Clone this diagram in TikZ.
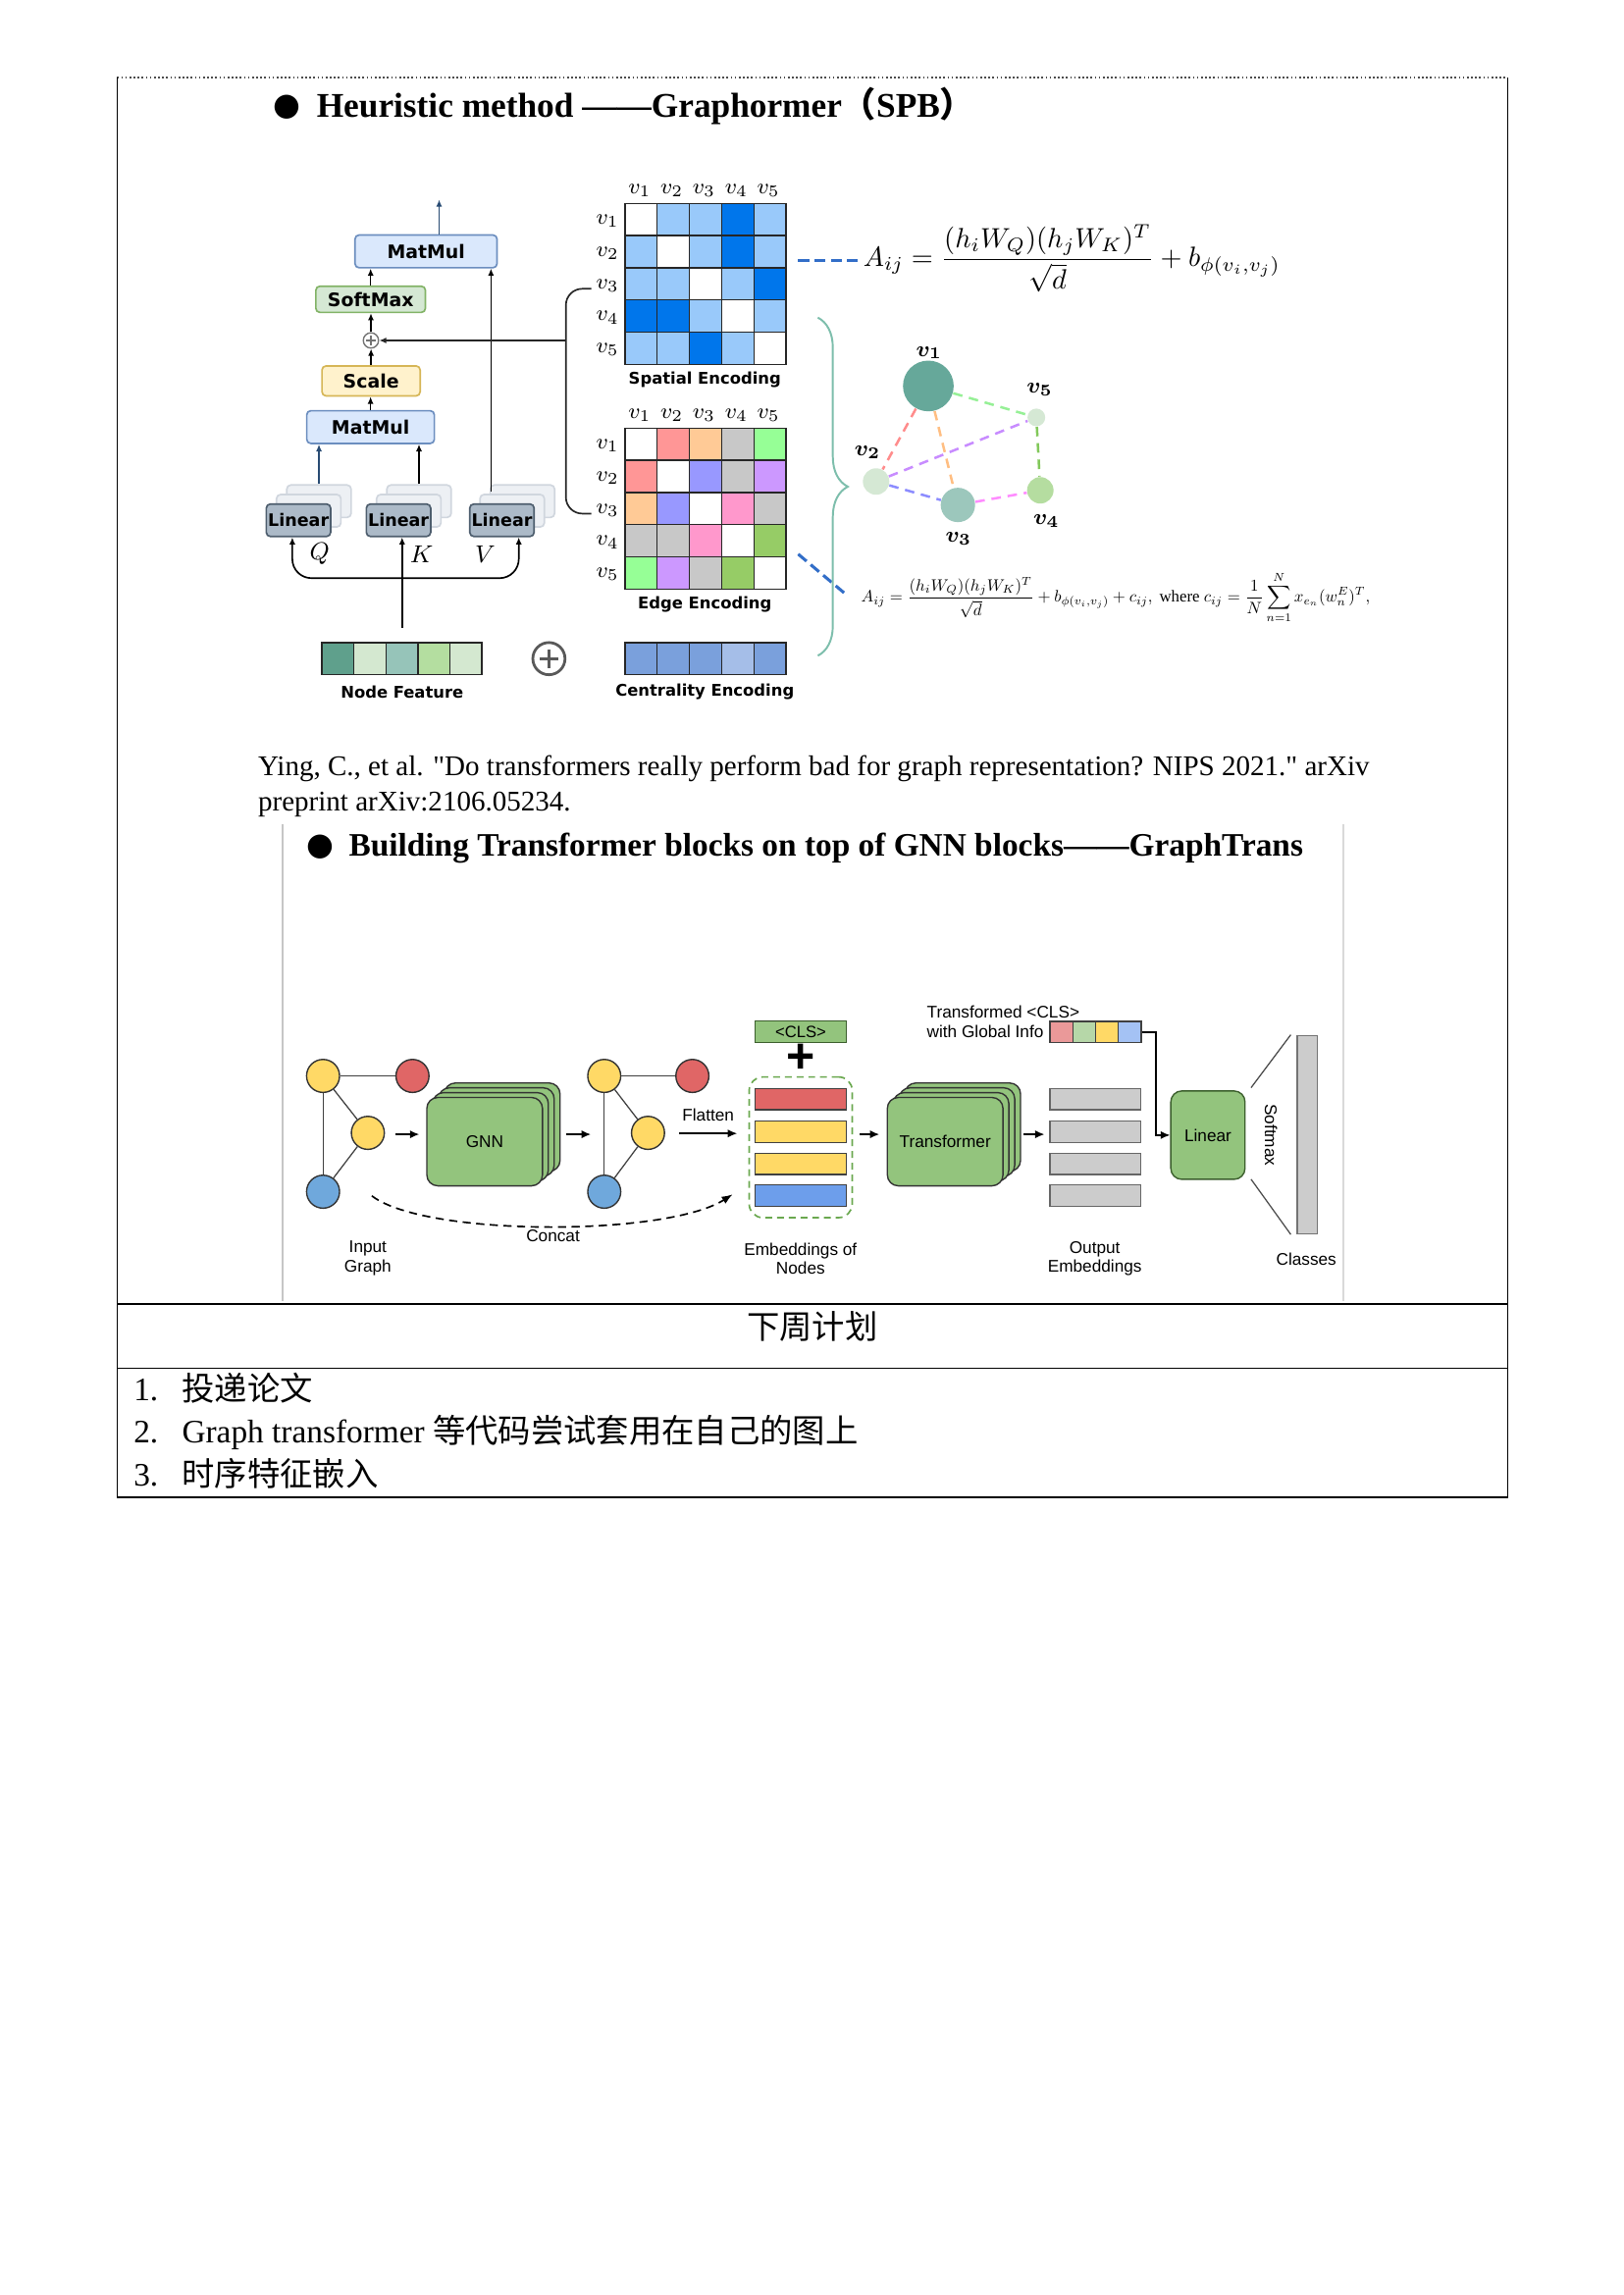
\documentclass[tikz,border=0pt]{standalone}
\usepackage{amsmath}
\usepackage{fontspec}
\setmainfont{Liberation Serif}
\newfontfamily\citefont{Liberation Serif}[Ligatures=TeXOff]
\newfontfamily\cjk{Noto Sans CJK SC}
\newfontfamily\lsans{Liberation Sans}
\newfontfamily\dvs{DejaVu Sans}
\usetikzlibrary{arrows.meta,decorations.pathreplacing,calc}

\definecolor{mmF}{RGB}{218,232,252}
\definecolor{mmD}{RGB}{108,142,191}
\definecolor{smF}{RGB}{213,232,212}
\definecolor{smD}{RGB}{130,179,102}
\definecolor{scF}{RGB}{255,242,204}
\definecolor{scD}{RGB}{214,182,86}
\definecolor{liF}{RGB}{172,186,200}
\definecolor{liD}{RGB}{78,94,110}
\definecolor{shF}{RGB}{237,240,244}
\definecolor{shD}{RGB}{208,214,222}
\definecolor{qblue}{RGB}{40,75,115}
\definecolor{spW}{RGB}{255,255,255}
\definecolor{spL}{RGB}{153,201,250}
\definecolor{spD}{RGB}{0,118,235}
\definecolor{egW}{RGB}{255,255,255}
\definecolor{egR}{RGB}{255,150,150}
\definecolor{egO}{RGB}{255,202,150}
\definecolor{egG}{RGB}{200,200,200}
\definecolor{egN}{RGB}{150,255,150}
\definecolor{egB}{RGB}{152,152,255}
\definecolor{egP}{RGB}{204,152,255}
\definecolor{egK}{RGB}{255,152,204}
\definecolor{egE}{RGB}{150,204,102}
\definecolor{nfA}{RGB}{95,160,140}
\definecolor{nfB}{RGB}{212,232,208}
\definecolor{nfC}{RGB}{150,196,185}
\definecolor{nfD}{RGB}{180,222,160}
\definecolor{ceA}{RGB}{122,160,220}
\definecolor{ceB}{RGB}{165,190,232}
\definecolor{gVa}{RGB}{102,168,154}
\definecolor{gVb}{RGB}{213,232,212}
\definecolor{gVc}{RGB}{156,199,188}
\definecolor{gVd}{RGB}{181,221,160}
\definecolor{ca}{RGB}{150,240,150}
\definecolor{cb}{RGB}{255,140,140}
\definecolor{cc}{RGB}{255,190,130}
\definecolor{cd}{RGB}{200,140,255}
\definecolor{ce}{RGB}{140,140,255}
\definecolor{cf}{RGB}{255,140,255}
\definecolor{cg}{RGB}{130,200,90}
\definecolor{brc}{RGB}{125,190,172}
\definecolor{dsh}{RGB}{50,110,200}
\definecolor{gtY}{RGB}{255,217,102}
\definecolor{gtR}{RGB}{224,102,102}
\definecolor{gtB}{RGB}{111,168,220}
\definecolor{gtBar}{RGB}{109,158,235}
\definecolor{gtG}{RGB}{147,196,125}
\definecolor{gtGD}{RGB}{60,95,45}
\definecolor{gtGray}{RGB}{204,204,204}
\definecolor{gtDash}{RGB}{106,168,79}
\definecolor{tcA}{RGB}{234,153,153}
\definecolor{tcB}{RGB}{182,215,168}
\definecolor{tcC}{RGB}{255,217,102}
\definecolor{tcD}{RGB}{164,194,244}

\tikzset{
  opbox/.style={draw, rounded corners=1.5pt, line width=0.6pt, inner sep=0pt,
    font=\dvs\bfseries\fontsize{6.8}{7}\selectfont},
  linbox/.style={draw=liD, fill=liF, rounded corners=1.5pt, line width=0.6pt, inner sep=0pt,
    minimum width=23.6pt, minimum height=11.9pt, font=\dvs\bfseries\fontsize{6.3}{7}\selectfont},
  linsh/.style={draw=shD, fill=shF, rounded corners=1.5pt, line width=0.6pt, inner sep=0pt,
    minimum width=23.6pt, minimum height=11.9pt},
  sarr/.style={line width=0.5pt, -{Latex[length=2.6pt,width=2.2pt]}},
  enclabel/.style={font=\dvs\bfseries\fontsize{5.9}{7}\selectfont, inner sep=0pt},
  vlab/.style={font=\fontsize{8}{8}\selectfont, inner sep=0pt},
  glab/.style={font=\fontsize{8.5}{8.5}\selectfont\boldmath, inner sep=0pt},
  gnode/.style={circle, inner sep=0pt, draw=none},
  gedge/.style={line width=0.9pt, dash pattern=on 3.5pt off 2.5pt},
  gtnode/.style={circle, draw=black!80, line width=0.5pt, minimum size=12.1pt, inner sep=0pt},
  gtedge/.style={line width=0.45pt, black!75},
  gtarr/.style={line width=0.85pt, -{Latex[length=3.5pt,width=3pt]}},
  gtstack/.style={draw=black!80, fill=gtG, rounded corners=4pt, line width=0.5pt,
    minimum width=42.4pt, minimum height=32.4pt, inner sep=0pt},
  gtbar/.style={draw=black!75, line width=0.45pt, minimum width=33.4pt, minimum height=7.8pt, inner sep=0pt},
  gtlab/.style={font=\lsans\fontsize{6.2}{7}\selectfont, align=center, inner sep=0pt},
  bodytxt/.style={font=\fontsize{12}{14}\selectfont, inner sep=0pt, anchor=base west},
  citetxt/.style={font=\citefont\fontsize{10.45}{12}\selectfont, inner sep=0pt, anchor=base west},
  ttl/.style={font=\bfseries\fontsize{12}{14}\selectfont, inner sep=0pt, anchor=base west},
  bul/.style={font=\dvs\fontsize{11.5}{12}\selectfont, inner sep=0pt},
  ruleline/.style={line width=0.5pt, black},
}

\begin{document}
\begin{tikzpicture}[x=0.5368pt,y=-0.5368pt]
\fill[white] (0,0) rectangle (1109,1568);
\useasboundingbox (0,0) rectangle (1109,1568);

% ---------------- page frame ----------------
\draw[black!70, line width=0.4pt, dash pattern=on 0.6pt off 0.9pt] (80,53) -- (1030,53);
\draw[ruleline] (80,53) -- (80,1023) -- (1030,1023) -- (1030,53);
\draw[ruleline] (80,891) -- (1030,891);
\draw[ruleline] (80,935) -- (1030,935);

% ---------------- titles and text ----------------
\node[bul] (b1) at (196,73) {●};
\node[ttl, font=\bfseries\fontsize{12.7}{14}\selectfont] (t1) at (216,80) {Heuristic method ——Graphormer{\cjk （}SPB{\cjk ）}};
\node[citetxt] (c1) at (176,530) {Ying, C., et al. "Do transformers really perform bad for graph representation? NIPS 2021." arXiv};
\node[citetxt] (c2) at (176,554) {preprint arXiv:2106.05234.};
\node[bul] (b2) at (219,579) {●};
\node[ttl] (t2) at (238,585) {Building Transformer blocks on top of GNN blocks——GraphTrans};
\draw[gray!45, line width=0.9pt] (193,563) -- (193,889);
\draw[gray!30, line width=0.6pt] (917.6,563) -- (917.6,889);

\node[font=\cjk\fontsize{12}{14}\selectfont, inner sep=0pt] (plan) at (555,906) {下周计划};
\node[bodytxt] (n1) at (91,957) {1.};
\node[bodytxt] (i1) at (124,957) {\cjk 投递论文};
\node[bodytxt] (n2) at (91,986) {2.};
\node[bodytxt] (i2) at (124,986) {Graph transformer {\cjk 等代码尝试套用在自己的图上}};
\node[bodytxt] (n3) at (91,1015) {3.};
\node[bodytxt] (i3) at (124,1015) {\cjk 时序特征嵌入};

% ---------------- Graphormer: encodings ----------------
\foreach \cl [count=\i from 0] in {W,L,L,D,L,L,W,L,D,L,L,L,W,L,D,D,D,L,W,L,L,L,D,L,W}{
  \pgfmathtruncatemacro\colk{mod(\i,5)}
  \pgfmathtruncatemacro\rowk{div(\i,5)}
  \filldraw[fill=sp\cl, draw=black!85, line width=0.5pt] ({427+22*\colk},{139+22*\rowk}) rectangle ++(22,22);
}
\foreach \cl [count=\i from 0] in {W,R,O,G,N,R,W,B,G,P,O,B,W,K,G,G,G,K,W,E,N,P,G,E,W}{
  \pgfmathtruncatemacro\colk{mod(\i,5)}
  \pgfmathtruncatemacro\rowk{div(\i,5)}
  \filldraw[fill=eg\cl, draw=black!85, line width=0.5pt] ({427+22*\colk},{292.5+22*\rowk}) rectangle ++(22,22);
}
\foreach \k in {1,...,5}{
  \node[vlab] (sc\k) at ({427+22*\k-12},130) {$v_{\k}$};
  \node[vlab] (sr\k) at (415,{139+22*\k-10}) {$v_{\k}$};
  \node[vlab] (ec\k) at ({427+22*\k-12},283.5) {$v_{\k}$};
  \node[vlab] (er\k) at (415,{292.5+22*\k-10}) {$v_{\k}$};
}
\foreach \cl [count=\i from 0] in {nfA,nfB,nfC,nfD,nfB}{
  \filldraw[fill=\cl, draw=black!85, line width=0.5pt] ({220+21.84*\i},439) rectangle ++(21.84,21.8);
}
\foreach \cl [count=\i from 0] in {ceA,ceA,ceA,ceB,ceA}{
  \filldraw[fill=\cl, draw=black!85, line width=0.5pt] ({427+22*\i},439) rectangle ++(22,21.8);
}
\node[enclabel] (spl) at (481.5,259.7) {Spatial Encoding};
\node[enclabel] (edl) at (481.5,413.3) {Edge Encoding};
\node[enclabel] (cel) at (481.5,472.6) {Centrality Encoding};
\node[enclabel] (nfl) at (274.7,472.6) {Node Feature};

\node[circle, draw=black!65, line width=1pt, minimum size=11.8pt, inner sep=0pt] (bigplus) at (375,450) {};
\draw[black!65, line width=1pt] ($(bigplus.center)+(-6.5,0)$) -- ($(bigplus.center)+(6.5,0)$);
\draw[black!65, line width=1pt] ($(bigplus.center)+(0,-6.5)$) -- ($(bigplus.center)+(0,6.5)$);

% ---------------- Graphormer: attention block ----------------
\node[opbox, fill=mmF, draw=mmD, minimum width=52.1pt, minimum height=12pt] (mmt) at (291.05,171.75) {MatMul};
\node[opbox, fill=smF, draw=smD, minimum width=40.2pt, minimum height=9.6pt] (sm) at (253.2,204.5) {SoftMax};
\node[circle, draw=black!55, fill=white, line width=0.5pt, minimum size=5.6pt, inner sep=0pt] (sp) at (253.4,232.6) {};
\draw[black!55, line width=0.4pt] ($(sp.center)+(-3.2,0)$) -- ($(sp.center)+(3.2,0)$);
\draw[black!55, line width=0.4pt] ($(sp.center)+(0,-3.2)$) -- ($(sp.center)+(0,3.2)$);
\node[opbox, fill=scF, draw=scD, minimum width=36pt, minimum height=11pt] (sc) at (253.5,260.25) {Scale};
\node[opbox, fill=mmF, draw=mmD, minimum width=46.8pt, minimum height=12pt] (mml) at (253.15,291.8) {MatMul};

\foreach \n/\x in {1/203.9,2/272.25,3/342.9}{
  \node[linsh] (Lc\n) at ({\x+14},342.45) {};
  \node[linsh] (Lb\n) at ({\x+7},348.95) {};
}
\coordinate (vtop) at (335.4,336);
\draw[sarr] (vtop) -- (vtop |- mmt.south);
\node[linbox] (L1) at (203.9,355.45) {Linear};
\node[linbox] (L2) at (272.25,355.45) {Linear};
\node[linbox] (L3) at (342.9,355.45) {Linear};

\draw[sarr, qblue] ([xshift=4.8pt]mmt.north) -- ++(0,-23.6);
\draw[sarr] (sm.north) -- (sm.north |- mmt.south);
\draw[sarr] (sp.north) -- (sp.north |- sm.south);
\draw[sarr] (sc.north) -- (sc.north |- sp.south);
\draw[sarr] (mml.north) -- (mml.north |- sc.south);
\draw[sarr, qblue] (Lc1.north) -- (Lc1.north |- mml.south);
\draw[sarr] (Lc2.north) -- (Lc2.north |- mml.south);

\coordinate (brL) at (199.7,395);
\coordinate (brR) at (354.4,395);
\draw[line width=0.6pt, {Latex[length=2.6pt,width=2.2pt]}-{Latex[length=2.6pt,width=2.2pt]}, rounded corners=7]
  (L1.south -| brL) -- (brL) -- (brR) -- (brR |- L3.south);
\coordinate (kfoot) at (274.7,429);
\draw[sarr, line width=0.6pt] (kfoot) -- (kfoot |- L2.south);
\node[font=\fontsize{9}{9}\selectfont, inner sep=0pt] (Q) at (218.3,378.5) {$Q$};
\node[font=\fontsize{9}{9}\selectfont, inner sep=0pt] (K) at (288,378.5) {$K$};
\node[font=\fontsize{9}{9}\selectfont, inner sep=0pt] (V) at (331.4,378.5) {$V$};

\coordinate (bk1) at (404,197.3);
\coordinate (bk2) at (404,350.9);
\coordinate (bkm) at (386.6,232.6);
\draw[line width=0.6pt, black!85, rounded corners=6] (bk1) -- (bk1 -| bkm) -- (bk2 -| bkm) -- (bk2);
\draw[sarr, black!85] (bkm) -- (sp.east);

% ---------------- formulas ----------------
\node[inner sep=0pt] (f1) at (732.3,176.5)
  {\resizebox{153pt}{!}{$\displaystyle A_{ij}=\frac{(h_iW_Q)(h_jW_K)^T}{\sqrt{d}}+b_{\phi(v_i,v_j)}$}};
\coordinate (dl1) at (545.3,178.2);
\coordinate (dl2) at (586,178.2);
\draw[dsh, line width=1.1pt, dash pattern=on 4pt off 2pt] (dl1) -- (dl2);

\node[inner sep=0pt] (f2) at (762.2,408.3)
  {\resizebox{186.6pt}{!}{$\displaystyle A_{ij}=\frac{(h_iW_Q)(h_jW_K)^T}{\sqrt{d}}+b_{\phi(v_i,v_j)}+c_{ij},\ \text{where}\ c_{ij}=\frac{1}{N}\sum_{n=1}^{N}x_{e_n}(w_n^E)^T,$}};
\coordinate (dl3) at (545.3,378.6);
\coordinate (dl4) at (576.6,405);
\draw[dsh, line width=1.1pt, dash pattern=on 4pt off 2pt] (dl3) -- (dl4);

\draw[brc, line width=0.7pt, decorate, decoration={brace, amplitude=11pt, aspect=0.5}] (558.7,217) -- (558.7,448);

% ---------------- graph ----------------
\node[gnode, fill=gVa, minimum size=18.6pt] (g1) at (634.2,263.7) {};
\node[gnode, fill=gVb, minimum size=6.5pt] (g5) at (708,285.2) {};
\node[gnode, fill=gVb, minimum size=9.7pt] (g2) at (598.5,329) {};
\node[gnode, fill=gVc, minimum size=12.6pt] (g3) at (654.4,345) {};
\node[gnode, fill=gVd, minimum size=9.7pt] (g4) at (710.7,335) {};
\draw[gedge, ca] (g1) -- (g5);
\draw[gedge, cb] (g1) -- (g2);
\draw[gedge, cc] (g1) -- (g3);
\draw[gedge, cd] (g2) -- (g5);
\draw[gedge, ce] (g2) -- (g3);
\draw[gedge, cf] (g3) -- (g4);
\draw[gedge, cg] (g5) -- (g4);
\node[glab] (lv1) at (634.7,241) {$v_1$};
\node[glab] (lv5) at (710.3,266) {$v_5$};
\node[glab] (lv2) at (592.7,309) {$v_2$};
\node[glab] (lv3) at (654.9,368) {$v_3$};
\node[glab] (lv4) at (714.8,356) {$v_4$};

% ---------------- GraphTrans ----------------
\node[gtnode, fill=gtY] (a1) at (220.7,735.1) {};
\node[gtnode, fill=gtR] (a2) at (281.8,735.1) {};
\node[gtnode, fill=gtY] (a3) at (251.3,774) {};
\node[gtnode, fill=gtB] (a4) at (220.7,814.2) {};
\draw[gtedge] (a1) -- (a2);
\draw[gtedge] (a1) -- (a4);
\draw[gtedge] (a1) -- (a3);
\draw[gtedge] (a3) -- (a4);

\node[gtnode, fill=gtY] (o1) at (412.8,735.1) {};
\node[gtnode, fill=gtR] (o2) at (473,735.1) {};
\node[gtnode, fill=gtY] (o3) at (442.7,774) {};
\node[gtnode, fill=gtB] (o4) at (412.8,814.2) {};
\draw[gtedge] (o1) -- (o2);
\draw[gtedge] (o1) -- (o4);
\draw[gtedge] (o1) -- (o3);
\draw[gtedge] (o3) -- (o4);

\foreach \k in {3,2,1}{
  \node[gtstack] (gnn\k) at ({331.1+4*\k},{780-3.3*\k}) {};
}
\node[gtstack, font=\lsans\fontsize{6.2}{7}\selectfont] (gnn) at (331.1,780) {GNN};
\foreach \k in {3,2,1}{
  \node[gtstack] (trf\k) at ({645.7+4*\k},{780-3.3*\k}) {};
}
\node[gtstack, font=\lsans\fontsize{6.2}{7}\selectfont] (trf) at (645.7,780) {Transformer};

\node[draw=gtDash, line width=0.6pt, dash pattern=on 2.5pt off 1.8pt, rounded corners=5pt,
  minimum width=37.8pt, minimum height=51.6pt, inner sep=0pt] (emb) at (547,783.85) {};
\node[gtbar, fill=gtR] (e1) at (547,750.85) {};
\node[gtbar, fill=gtY] (e2) at (547,773.25) {};
\node[gtbar, fill=gtY] (e3) at (547,795.1) {};
\node[gtbar, fill=gtBar] (e4) at (547,816.9) {};
\node[gtbar, fill=gtG, draw=gtGD, font=\lsans\fontsize{6}{7}\selectfont] (cls) at (547,705) {<CLS>};
\node[font=\lsans\bfseries\fontsize{18}{18}\selectfont, inner sep=0pt] (plus) at (547.4,723.5) {+};

\node[gtbar, fill=gtGray, draw=black!60] (u1) at (748.4,750.85) {};
\node[gtbar, fill=gtGray, draw=black!60] (u2) at (748.4,773.25) {};
\node[gtbar, fill=gtGray, draw=black!60] (u3) at (748.4,795.1) {};
\node[gtbar, fill=gtGray, draw=black!60] (u4) at (748.4,816.9) {};

\foreach \cl [count=\i from 0] in {tcA,tcB,tcC,tcD}{
  \node[draw=black!75, fill=\cl, line width=0.45pt, minimum width=8.37pt, minimum height=7.8pt, inner sep=0pt]
    (tc\i) at ({725+15.6*\i},705.05) {};
}
\node[gtlab, align=left, anchor=west] (ltc) at (632.9,698.1) {Transformed <CLS>\\with Global Info};

\node[draw=gtGD, fill=gtG, rounded corners=4pt, line width=0.5pt, minimum width=27.2pt, minimum height=32.4pt,
  inner sep=0pt, font=\lsans\fontsize{6.2}{7}\selectfont] (linr) at (825.2,775.55) {Linear};
\coordinate (kn) at (789.5,705.05);
\draw[line width=0.6pt, -{Latex[length=3.5pt,width=3pt]}] (tc3.east) -- (kn) |- (linr.west);

\node[gtlab, rotate=-90] (lsm) at (868.3,775.5) {Softmax};
\node[draw=black!55, fill=gtGray, line width=0.45pt, minimum width=7.35pt, minimum height=72.8pt, inner sep=0pt]
  (clsbar) at (893,775.2) {};
\coordinate (sl1) at (854.7,743.1);
\coordinate (sl2) at (854.7,805.7);
\draw[gtedge, black!70] (sl1) -- ([xshift=-2.1pt]clsbar.north west);
\draw[gtedge, black!70] (sl2) -- ([xshift=-2.1pt]clsbar.south west);

% arrows
\coordinate (ar1a) at (269.9,775);  \coordinate (ar1b) at (286.6,775);
\coordinate (ar2a) at (386.5,775);  \coordinate (ar2b) at (403.8,775);
\coordinate (ar3a) at (464,774.4);  \coordinate (ar3b) at (503.7,774.4);
\coordinate (ar4a) at (587.2,775);  \coordinate (ar4b) at (600.9,775);
\coordinate (ar5a) at (699.2,775);  \coordinate (ar5b) at (713.7,775);
\draw[gtarr] (ar1a) -- (ar1b);
\draw[gtarr] (ar2a) -- (ar2b);
\draw[gtarr, line width=0.6pt] (ar3a) -- (ar3b);
\draw[gtarr] (ar4a) -- (ar4b);
\draw[gtarr] (ar5a) -- (ar5b);

\coordinate (cc1) at (254,817);
\coordinate (cc2) at (500.5,816);
\draw[line width=0.6pt, dash pattern=on 3pt off 2pt, -{Latex[length=4pt,width=3pt]}]
  (cc1) .. controls (290,845) and (455,845) .. (cc2);

\node[gtlab] (lflat) at (483.8,762.1) {Flatten};
\node[gtlab] (lcon) at (377.8,844.4) {Concat};
\node[gtlab] (lin) at (251.3,859.8) {Input\\Graph};
\node[gtlab] (lemb) at (546.9,859.8) {Embeddings of\\Nodes};
\node[gtlab] (lout) at (747.9,859.8) {Output\\Embeddings};
\node[gtlab] (lcls) at (892.4,860) {Classes};
\end{tikzpicture}
\end{document}
